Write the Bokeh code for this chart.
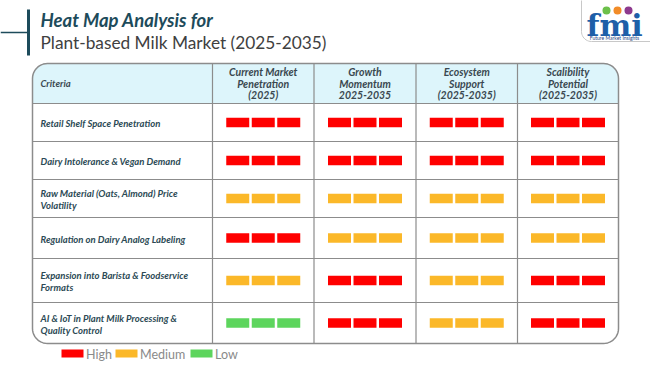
import numpy as np
from bokeh.plotting import figure
from bokeh.models import Range1d, ColumnDataSource
from bokeh.core.properties import value
from bokeh.embed import file_html
from bokeh.resources import INLINE

# ---------------- data ----------------
title_line1 = "Heat Map Analysis for"
title_line2 = "Plant-based Milk Market (2025-2035)"
criteria_header = "Criteria"
column_labels = [
    ["Current Market", "Penetration", "(2025)"],
    ["Growth", "Momentum", "2025-2035"],
    ["Ecosystem", "Support", "(2025-2035)"],
    ["Scalibility", "Potential", "(2025-2035)"],
]
criteria = [
    ["Retail Shelf Space Penetration"],
    ["Dairy Intolerance & Vegan Demand"],
    ["Raw Material (Oats, Almond) Price", "Volatility"],
    ["Regulation on Dairy Analog Labeling"],
    ["Expansion into Barista & Foodservice", "Formats"],
    ["AI & IoT in Plant Milk Processing &", "Quality Control"],
]
# levels per row (criteria) x column
levels = [
    ["High", "High", "High", "High"],
    ["High", "High", "High", "High"],
    ["Medium", "Medium", "Medium", "Medium"],
    ["High", "Medium", "Medium", "Medium"],
    ["Medium", "High", "Medium", "High"],
    ["Low", "High", "Medium", "High"],
]
legend_labels = ["High", "Medium", "Low"]
level_colors = {"High": "#FF0000", "Medium": "#FBB829", "Low": "#5DD55D"}

# ---------------- layout ----------------
W, H = 650, 365
p = figure(width=W, height=H, output_backend="svg", toolbar_location=None,
           x_range=Range1d(0, W), y_range=Range1d(H, 0),
           min_border=0, outline_line_color=None, background_fill_color="white")
p.axis.visible = False
p.xgrid.visible = False
p.ygrid.visible = False

col_edges = [32, 212, 313.5, 415.5, 517, 618]
row_edges = [63, 103, 141, 179, 217, 258, 302, 343]
grid_color = "#8c8c8c"
r = 15

def rounded_rect(x0, y0, x1, y1, rad, corners=(True, True, True, True), n=12):
    # corners: tl, tr, br, bl ; y grows downward
    xs, ys = [], []
    tl, tr, br, bl = corners
    def arc(cx, cy, a0, a1):
        t = np.linspace(a0, a1, n)
        return list(cx + rad * np.cos(t)), list(cy + rad * np.sin(t))
    if tl:
        ax, ay = arc(x0 + rad, y0 + rad, np.pi, 1.5 * np.pi); xs += ax; ys += ay
    else:
        xs.append(x0); ys.append(y0)
    if tr:
        ax, ay = arc(x1 - rad, y0 + rad, 1.5 * np.pi, 2 * np.pi); xs += ax; ys += ay
    else:
        xs.append(x1); ys.append(y0)
    if br:
        ax, ay = arc(x1 - rad, y1 - rad, 0, 0.5 * np.pi); xs += ax; ys += ay
    else:
        xs.append(x1); ys.append(y1)
    if bl:
        ax, ay = arc(x0 + rad, y1 - rad, 0.5 * np.pi, np.pi); xs += ax; ys += ay
    else:
        xs.append(x0); ys.append(y1)
    return xs, ys

# header background
hx, hy = rounded_rect(col_edges[0], row_edges[0], col_edges[-1], row_edges[1], r,
                      corners=(True, True, False, False))
p.patch(hx, hy, fill_color="#DDF5FB", line_color=None)

# grid lines
for xe in col_edges[1:-1]:
    p.line([xe, xe], [row_edges[0], row_edges[-1]], line_color=grid_color, line_width=1.2)
for ye in row_edges[1:-1]:
    p.line([col_edges[0], col_edges[-1]], [ye, ye], line_color=grid_color, line_width=1.2)

# outer border
ox, oy = rounded_rect(col_edges[0], row_edges[0], col_edges[-1], row_edges[-1], r)
ox.append(ox[0]); oy.append(oy[0])
p.line(ox, oy, line_color=grid_color, line_width=1.5)

# header texts
hdr_color = "#3A4850"
font = value("Lato")
p.text([40], [(row_edges[0] + row_edges[1]) / 2], text=[criteria_header], text_font=font,
       text_font_style="bold italic", text_font_size="9.5px", text_color=hdr_color,
       text_baseline="middle", text_align="left")
hx_, hy_, ht_ = [], [], []
for ci, lines in enumerate(column_labels):
    cx = (col_edges[ci + 1] + col_edges[ci + 2]) / 2
    cy = (row_edges[0] + row_edges[1]) / 2
    n = len(lines)
    for li, t in enumerate(lines):
        hx_.append(cx); hy_.append(cy + (li - (n - 1) / 2) * 11.5); ht_.append(t)
p.text(hx_, hy_, text=ht_, text_font=font, text_font_style="bold italic",
       text_font_size="10.5px", text_color=hdr_color, text_baseline="middle", text_align="center")

# row labels
lx, ly, lt = [], [], []
for ri, lines in enumerate(criteria):
    cy = (row_edges[ri + 1] + row_edges[ri + 2]) / 2
    n = len(lines)
    for li, t in enumerate(lines):
        lx.append(40); ly.append(cy + 1 + (li - (n - 1) / 2) * 12); lt.append(t)
p.text(lx, ly, text=lt, text_font=font, text_font_style="bold italic",
       text_font_size="9.5px", text_color="#2C4A55", text_baseline="middle", text_align="left")

# heat bars
bx, by, bc = [], [], []
for ri, row in enumerate(levels):
    cy = (row_edges[ri + 1] + row_edges[ri + 2]) / 2
    for ci, lev in enumerate(row):
        cx = (col_edges[ci + 1] + col_edges[ci + 2]) / 2
        for k in (-1, 0, 1):
            bx.append(cx + k * 25.5); by.append(cy); bc.append(level_colors[lev])
p.rect(x="x", y="y", width=23, height=9.5, fill_color="c", line_color=None,
       source=ColumnDataSource(dict(x=bx, y=by, c=bc)))

# legend
leg_x = [72, 126, 201]
p.rect(x=leg_x, y=[353] * 3, width=22, height=8,
       fill_color=[level_colors[l] for l in legend_labels], line_color=None)
p.text([lx_ + 13.5 for lx_ in leg_x], [353.5] * 3, text=legend_labels, text_font=font,
       text_font_size="12.5px", text_color="#8A8A8A", text_baseline="middle", text_align="left")

# title
p.line([0, 28], [32, 32], line_color="#1D4B5B", line_width=1.5)
p.line([28, 28], [9, 55], line_color="#1D4B5B", line_width=3)
p.text([40], [19], text=[title_line1], text_font=font, text_font_style="bold italic",
       text_font_size="18.5px", text_color="#1D4B5B", text_baseline="middle", text_align="left")
p.text([40], [42], text=[title_line2], text_font=font,
       text_font_size="17.3px", text_color="#404040", text_baseline="middle", text_align="left")

# logo
gx, gy = rounded_rect(581, -20, 680, 41, 10)
gx.append(gx[0]); gy.append(gy[0])
p.line(gx, gy, line_color="#C8C8C8", line_width=1)
p.text([614], [25], text=["fmi"], text_font=value("DejaVu Serif"), text_font_style="bold",
       text_font_size="30px", text_color="#1E5FA8", text_baseline="middle", text_align="center")
p.scatter([606, 617, 628], [10, 10, 10], size=8,
          fill_color=["#6CC04A", "#F28C28", "#8E3A8E"], line_color=None)
p.text([614], [37], text=["Future Market Insights"], text_font=font,
       text_font_size="5px", text_color="#1E3F7F", text_baseline="middle", text_align="center")

open("out.html", "w").write(file_html(p, INLINE))
